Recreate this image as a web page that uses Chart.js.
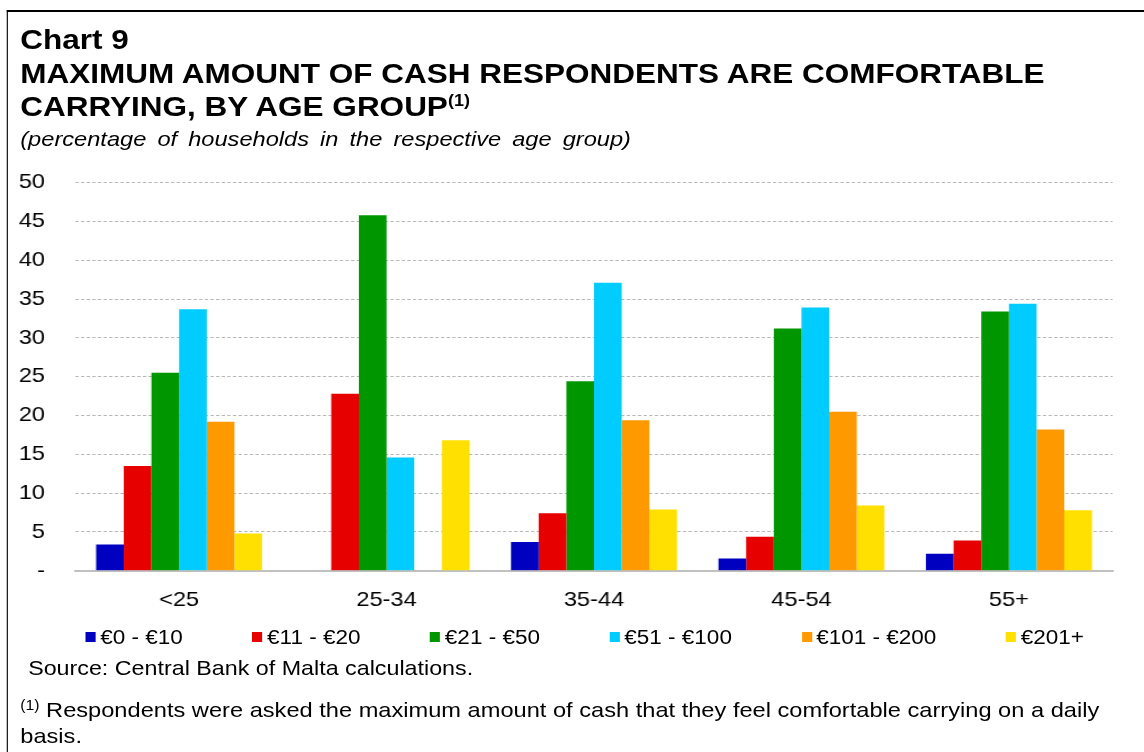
<!DOCTYPE html>
<html>
<head>
<meta charset="utf-8">
<script src="https://cdn.jsdelivr.net/npm/chart.js@4"></script>
<style>
  body { margin: 0; background: #fff; font-family: "Liberation Sans", Arial, sans-serif; color: #000; overflow: hidden; }
  /* the reference is slightly stretched sideways, so the whole page is laid out narrower and scaled */
  #page { position: relative; width: 1017px; height: 752px; transform: scaleX(1.125); transform-origin: 0 0; }
  #frame { position: absolute; left: 6px; top: 10px; right: -20px; bottom: -20px; border-left: 1.3px solid #000; border-top: 2px solid #000; }
  .t { position: absolute; left: 18px; white-space: nowrap; line-height: 1; }
  #chartNo { top: 26px; font-size: 28px; font-weight: bold; }
  #title1 { top: 60px; font-size: 28px; font-weight: bold; }
  #title2 { top: 93px; font-size: 28px; font-weight: bold; }
  #title2 sup { font-size: 16px; vertical-align: 10px; }
  #sub { top: 128px; font-size: 21px; font-style: italic; word-spacing: 4px; }
  #source { left: 25px; top: 658px; font-size: 20.7px; }
  #note1 { top: 698px; font-size: 21px; }
  #note1 sup { font-size: 14px; vertical-align: 7px; }
  #note2 { top: 725px; font-size: 21px; }
  #wrap { position: absolute; left: 0; top: 143px; width: 1017px; height: 479px; }
  #legend { position: absolute; left: 76px; top: 627px; display: flex; align-items: center; font-size: 20px; line-height: 1; }
  #legend .item { display: flex; align-items: center; margin-right: 62px; white-space: nowrap; }
  #legend .box { width: 9px; height: 10px; margin-right: 4px; }
</style>
</head>
<body>
<div id="page">
  <div id="frame"></div>
  <div class="t" id="chartNo">Chart 9</div>
  <div class="t" id="title1">MAXIMUM AMOUNT OF CASH RESPONDENTS ARE COMFORTABLE</div>
  <div class="t" id="title2">CARRYING, BY AGE GROUP<sup>(1)</sup></div>
  <div class="t" id="sub">(percentage of households in the respective age group)</div>
  <div id="wrap"><canvas id="ageChart"></canvas></div>
  <div id="legend"></div>
  <div class="t" id="source">Source: Central Bank of Malta calculations.</div>
  <div class="t" id="note1"><sup>(1)</sup> Respondents were asked the maximum amount of cash that they feel comfortable carrying on a daily</div>
  <div class="t" id="note2">basis.</div>
</div>
<script>
// age groups on the x axis
var ageGroups = ['<25', '25-34', '35-44', '45-54', '55+'];

// cash bands (legend)
var bandLabels = ['€0 - €10', '€11 - €20', '€21 - €50', '€51 - €100', '€101 - €200', '€201+'];
var bandColors = ['#0000C0', '#E60000', '#009600', '#00CCFF', '#FF9900', '#FFE000'];

// percentage of households per band, one value per age group
var band0to10 = [3.4, 0, 3.7, 1.6, 2.2];
var band11to20 = [13.5, 22.8, 7.4, 4.4, 3.9];
var band21to50 = [25.5, 45.8, 24.4, 31.2, 33.4];
var band51to100 = [33.7, 14.6, 37.1, 33.9, 34.4];
var band101to200 = [19.2, 0, 19.4, 20.5, 18.2];
var band201plus = [4.8, 16.8, 7.9, 8.4, 7.8];

var yTicks = [0, 5, 10, 15, 20, 25, 30, 35, 40, 45, 50];

var seriesValues = [band0to10, band11to20, band21to50, band51to100, band101to200, band201plus];

var fontFamily = '"Liberation Sans", Arial, sans-serif';

document.addEventListener('DOMContentLoaded', function() {
    var ctx = document.getElementById('ageChart').getContext('2d');

    var datasets = seriesValues.map(function(values, i) {
        return {
            label: bandLabels[i],
            data: values,
            backgroundColor: bandColors[i],
            borderWidth: 0
        };
    });

    var chart = new Chart(ctx, {
        type: 'bar',
        data: {
            labels: ageGroups,
            datasets: datasets
        },
        options: {
            responsive: true,
            maintainAspectRatio: false,
            animation: false,
            datasets: {
                bar: {
                    categoryPercentage: 0.8,
                    barPercentage: 1.0
                }
            },
            layout: {
                padding: { top: 22, right: 28, left: 0, bottom: 0 }
            },
            plugins: {
                legend: { display: false },
                tooltip: { enabled: false }
            },
            scales: {
                x: {
                    grid: { display: false },
                    border: { display: true, color: '#c0c0c0', width: 2 },
                    ticks: {
                        padding: 9,
                        color: '#000',
                        font: { family: fontFamily, size: 21 }
                    }
                },
                y: {
                    min: 0,
                    max: 50,
                    afterFit: function(scale) {
                        scale.width = 67;
                    },
                    afterBuildTicks: function(scale) {
                        scale.ticks = yTicks.map(function(v) { return { value: v }; });
                    },
                    grid: {
                        color: '#b8b8b8',
                        lineWidth: 1,
                        drawTicks: false
                    },
                    border: { display: false, dash: [3, 2] },
                    ticks: {
                        padding: 27,
                        color: '#000',
                        font: { family: fontFamily, size: 21 },
                        callback: function(value) {
                            return value === 0 ? '-' : value;
                        }
                    }
                }
            }
        }
    });

    // legend built from the chart's own datasets
    var legendEl = document.getElementById('legend');
    chart.data.datasets.forEach(function(ds) {
        var item = document.createElement('div');
        item.className = 'item';
        var box = document.createElement('span');
        box.className = 'box';
        box.style.background = ds.backgroundColor;
        var text = document.createElement('span');
        text.textContent = ds.label;
        item.appendChild(box);
        item.appendChild(text);
        legendEl.appendChild(item);
    });
});
</script>
</body>
</html>
